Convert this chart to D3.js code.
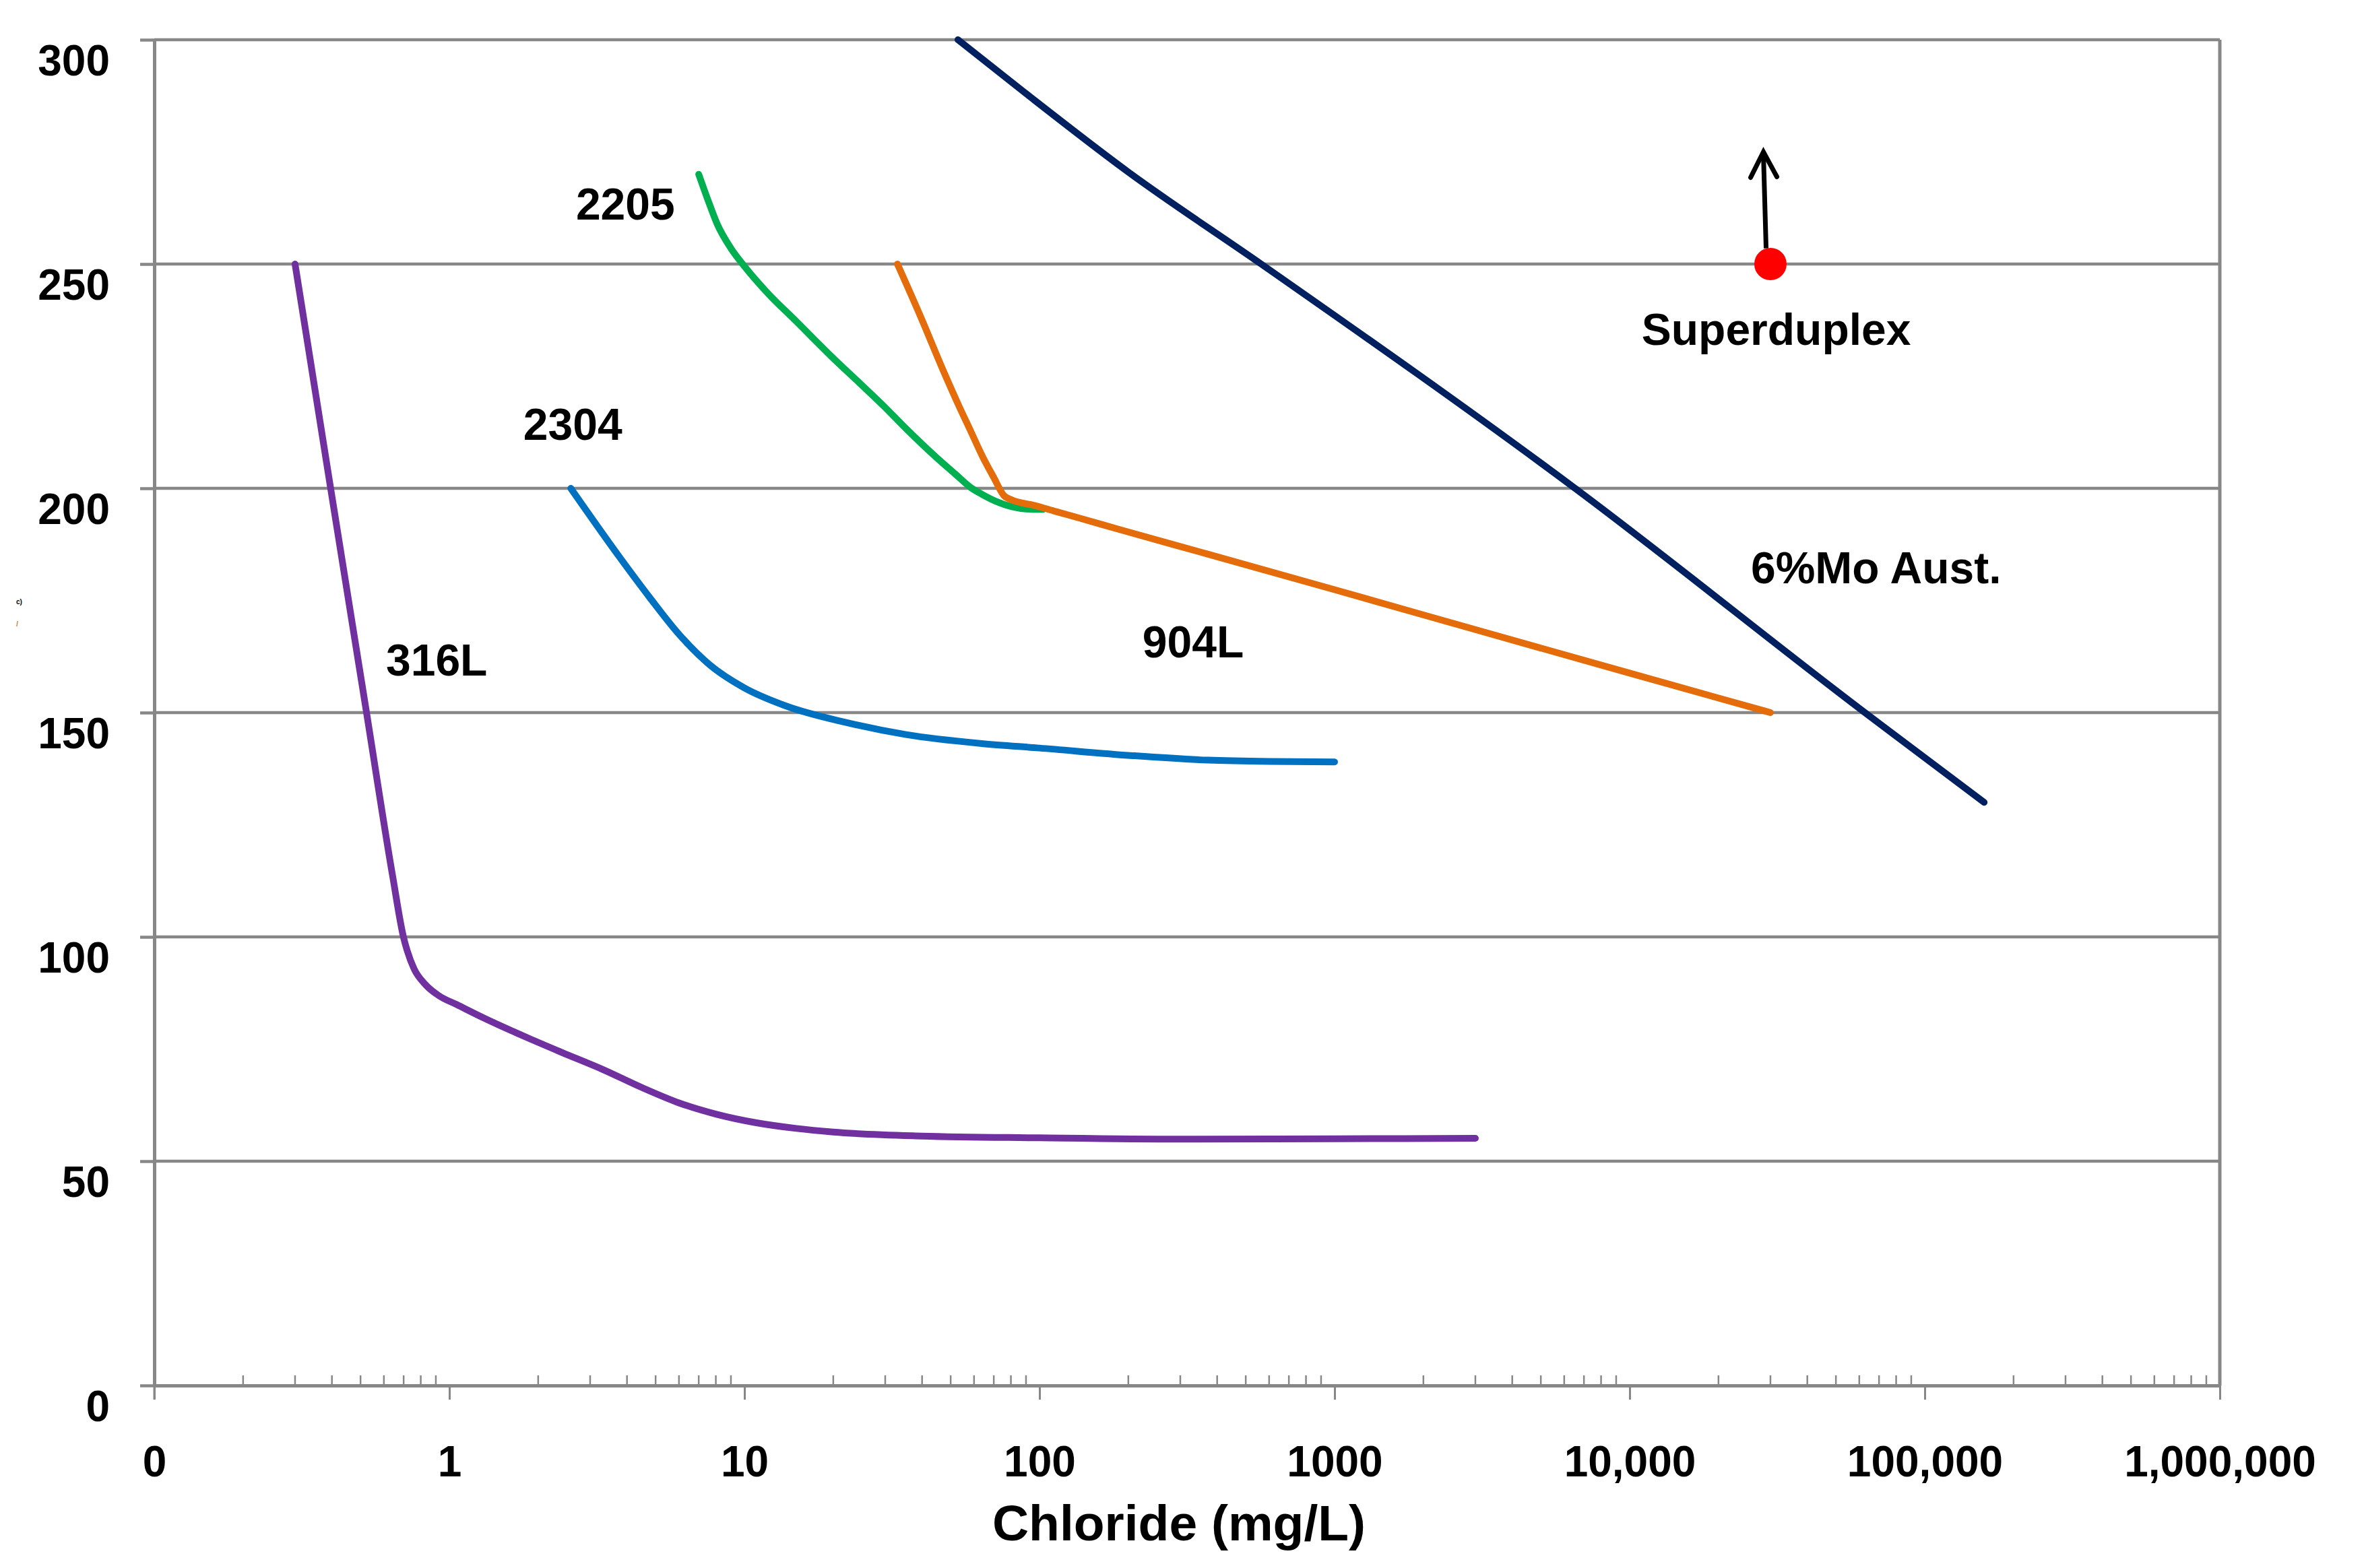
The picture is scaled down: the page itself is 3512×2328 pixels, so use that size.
<!DOCTYPE html>
<html>
<head>
<meta charset="utf-8">
<script src="https://cdn.jsdelivr.net/npm/d3@7"></script>
<style>
  html, body { margin: 0; padding: 0; background: #ffffff; }
  svg { display: block; }
  text { font-family: "Liberation Sans", Arial, Helvetica, sans-serif; font-weight: bold; fill: #000; }
</style>
</head>
<body>
<svg id="chart" width="3512" height="2328"></svg>
<script>
// ---------------- data ----------------
const xTickValues = [0.1, 1, 10, 100, 1000, 10000, 100000, 1000000];
const xTickLabels = ["0", "1", "10", "100", "1000", "10,000", "100,000", "1,000,000"];
const yTickValues = [0, 50, 100, 150, 200, 250, 300];
const xTitle = "Chloride (mg/L)";

const s316L_x = [0.30, 0.396, 0.524, 0.643, 0.70, 0.72, 0.759, 0.829, 0.921, 1.06, 1.31, 1.857, 2.415, 3.35, 4.5, 6.0, 8.0, 10.9, 15, 20, 40, 100, 300, 1000, 3000];
const s316L_y = [250, 200, 150, 113.4, 99.8, 96.9, 92.9, 89.4, 86.9, 84.9, 81.9, 77.4, 74.2, 70.3, 66.4, 63.0, 60.5, 58.6, 57.3, 56.5, 55.6, 55.2, 54.9, 55.0, 55.1];

const s2304_x = [2.58, 3.77, 4.77, 6.03, 7.64, 10, 13.8, 22.1, 35.3, 63.7, 100, 207, 373, 600, 1000];
const s2304_y = [200, 184.7, 175.7, 167.3, 160.6, 155.5, 151.5, 147.8, 145.1, 143.1, 142.1, 140.4, 139.4, 139.1, 139.0];

const s2205_x = [7.0, 7.5, 8.1, 9.0, 10, 12, 15, 20, 25, 29.6, 35.3, 45.2, 52.0, 58.7, 64.1, 71.2, 80.6, 96, 103];
const s2205_y = [270, 264.5, 258.8, 253.5, 249.5, 243.5, 237.2, 229.0, 223.0, 218.4, 213.3, 206.6, 203.1, 200.1, 198.6, 197.1, 195.9, 195.3, 195.3];

const s904L_x = [33, 40, 47, 53.3, 58.7, 64.1, 70.0, 75.7, 80.6, 96, 114, 136, 187, 373, 1000, 3000, 10000, 30000];
const s904L_y = [250, 237.5, 226.5, 218.4, 212.5, 207.1, 202.4, 198.4, 197.4, 196.2, 194.8, 193.4, 190.8, 185.3, 177.4, 168.5, 158.8, 150];

const s6Mo_x = [52.9, 90, 200, 564, 6530, 62700, 159000];
const s6Mo_y = [300, 288, 270.5, 250, 200, 150, 130];

const superduplexPoint = [30000, 250];
const arrowFrom = [29000, 253.5];
const arrowTo = [28400, 275];

const seriesNames = ["316L", "2304", "2205", "904L", "6%Mo Aust."];
const seriesColors = ["#7030A0", "#0070C0", "#00B050", "#E46C0A", "#002060"];

const labelTexts = ["2205", "2304", "316L", "904L", "Superduplex", "6%Mo Aust."];
const labelX = [3.95, 2.62, 0.906, 331.6, 31400, 68400];
const labelY = [263.4, 214.35, 161.8, 165.9, 235.5, 182.4];

// ---------------- layout ----------------
const X0 = 229, X1 = 3295, Y0 = 2057, Y1 = 59;
const GRID = "#878787";

const svg = d3.select("#chart");
svg.append("rect").attr("width", 3512).attr("height", 2328).attr("fill", "#fff");

const x = d3.scaleLog().domain([0.1, 1000000]).range([X0, X1]);
const y = d3.scaleLinear().domain([0, 300]).range([Y0, Y1]);

// horizontal gridlines
svg.append("g").selectAll("line")
  .data(yTickValues.filter(d => d > 0))
  .join("line")
  .attr("x1", X0).attr("x2", X1)
  .attr("y1", d => y(d)).attr("y2", d => y(d))
  .attr("stroke", GRID).attr("stroke-width", 4.5);

// right border
svg.append("line")
  .attr("x1", X1).attr("x2", X1).attr("y1", y(300)).attr("y2", y(0))
  .attr("stroke", GRID).attr("stroke-width", 5);

// minor x ticks (inside, upward)
const minorTicks = [];
for (let e = -1; e < 6; e++) {
  for (let m = 2; m <= 9; m++) minorTicks.push(m * Math.pow(10, e));
}
svg.append("g").selectAll("line")
  .data(minorTicks)
  .join("line")
  .attr("x1", d => x(d)).attr("x2", d => x(d))
  .attr("y1", y(0)).attr("y2", y(0) - 15)
  .attr("stroke", GRID).attr("stroke-width", 2.5);

// x axis
const xAxis = d3.axisBottom(x)
  .tickValues(xTickValues)
  .tickFormat((d, i) => xTickLabels[i])
  .tickSize(21)
  .tickSizeOuter(0);
const gx = svg.append("g").attr("transform", `translate(0,${Y0})`).call(xAxis);
gx.select(".domain").attr("stroke", GRID).attr("stroke-width", 5);
gx.selectAll(".tick line").attr("stroke", GRID).attr("stroke-width", 3);
gx.selectAll(".tick text")
  .attr("y", 135).attr("dy", 0)
  .style("font-size", "64px")
  .style("font-family", '"Liberation Sans", Arial, sans-serif')
  .style("font-weight", "bold")
  .attr("fill", "#000");

// y axis
const yAxis = d3.axisLeft(y)
  .tickValues(yTickValues)
  .tickFormat(d3.format("d"))
  .tickSize(21)
  .tickSizeOuter(0);
const gy = svg.append("g").attr("transform", `translate(${X0},0)`).call(yAxis);
gy.select(".domain").attr("stroke", GRID).attr("stroke-width", 5);
gy.selectAll(".tick line").attr("stroke", GRID).attr("stroke-width", 4.5);
gy.selectAll(".tick text")
  .attr("x", -66).attr("dy", 0).attr("y", 52)
  .style("font-size", "64px")
  .style("font-family", '"Liberation Sans", Arial, sans-serif')
  .style("font-weight", "bold")
  .attr("fill", "#000");

// left axis extends below x axis as the 0 tick
svg.append("line")
  .attr("x1", X0).attr("x2", X0).attr("y1", Y0).attr("y2", Y0 + 21)
  .attr("stroke", GRID).attr("stroke-width", 3);

// x axis title
svg.append("text")
  .attr("x", 1750).attr("y", 2287)
  .attr("text-anchor", "middle")
  .style("font-size", "75px")
  .text(xTitle);

// ---------------- series ----------------
const seriesX = [s316L_x, s2304_x, s2205_x, s904L_x, s6Mo_x];
const seriesY = [s316L_y, s2304_y, s2205_y, s904L_y, s6Mo_y];
const line = d3.line()
  .x(d => x(d[0]))
  .y(d => y(d[1]))
  .curve(d3.curveMonotoneX);

const gLines = svg.append("g");
seriesNames.forEach((name, i) => {
  const pts = seriesX[i].map((v, k) => [v, seriesY[i][k]]);
  gLines.append("path")
    .datum(pts)
    .attr("d", line)
    .attr("fill", "none")
    .attr("stroke", seriesColors[i])
    .attr("stroke-width", 10)
    .attr("stroke-linecap", "round")
    .attr("stroke-linejoin", "round");
});

// Superduplex point + arrow
svg.append("circle")
  .attr("cx", x(superduplexPoint[0])).attr("cy", y(superduplexPoint[1]))
  .attr("r", 24).attr("fill", "#FF0000");

const tipX = x(arrowTo[0]), tipY = y(arrowTo[1]);
svg.append("line")
  .attr("x1", x(arrowFrom[0])).attr("y1", y(arrowFrom[1]))
  .attr("x2", tipX).attr("y2", tipY + 3)
  .attr("stroke", "#000").attr("stroke-width", 7);
svg.append("path")
  .attr("d", `M${tipX - 19},${tipY + 38} L${tipX},${tipY} L${tipX + 20},${tipY + 37}`)
  .attr("fill", "none").attr("stroke", "#000").attr("stroke-width", 7)
  .attr("stroke-linecap", "round").attr("stroke-linejoin", "miter");

// labels
svg.append("g").selectAll("text")
  .data(labelTexts)
  .join("text")
  .attr("x", (d, i) => x(labelX[i]))
  .attr("y", (d, i) => y(labelY[i]) + 23.5)
  .attr("text-anchor", "middle")
  .style("font-size", "66px")
  .text(d => d);

// tiny stray marks at the left edge (remnants of a hidden axis title)
svg.append("text").attr("x", 24).attr("y", 897)
  .style("font-size", "10px").text("c)");
svg.append("text").attr("x", 24).attr("y", 930)
  .style("font-size", "11px").style("fill", "#c0804a").text("/");
</script>
</body>
</html>
